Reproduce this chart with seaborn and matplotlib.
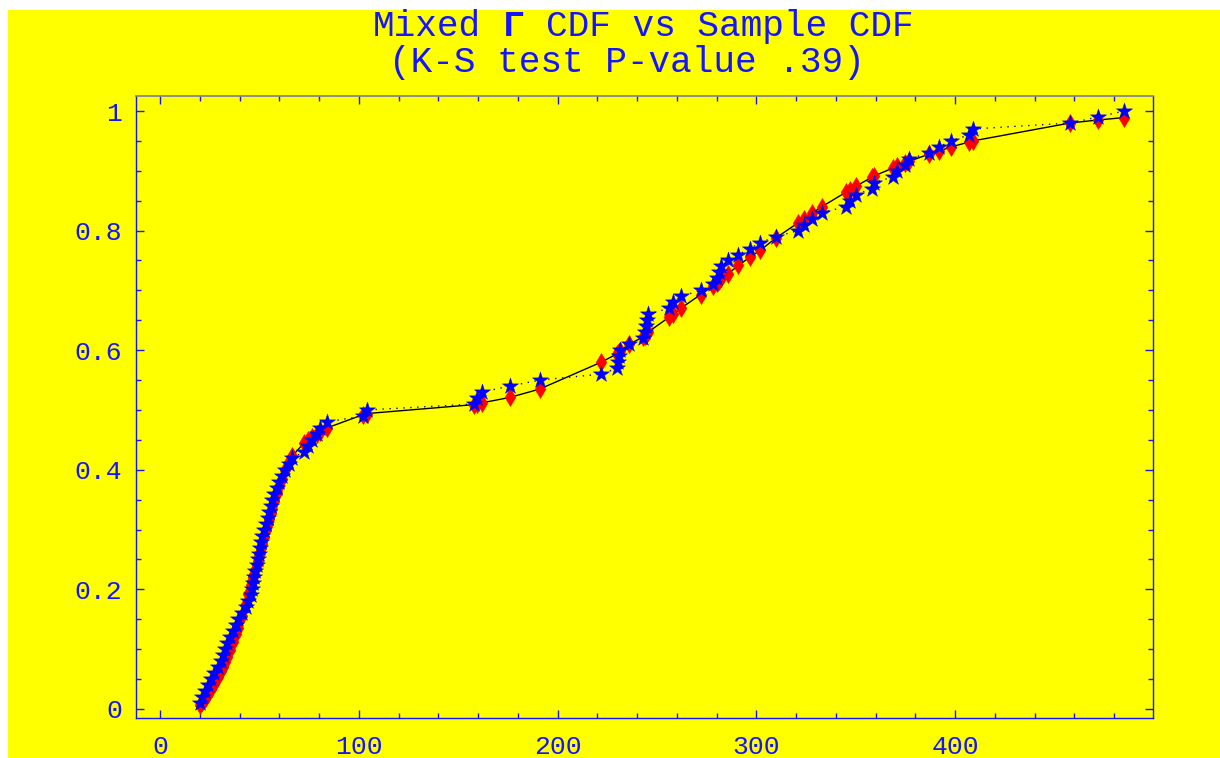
import matplotlib
matplotlib.use("Agg")
import matplotlib.pyplot as plt
from matplotlib.patches import Rectangle
from matplotlib.ticker import MultipleLocator
import seaborn as sns
import pandas as pd

# ---- data ----
x_sample = [20, 21, 22.5, 24, 25.5, 27, 29, 30.5, 31.5, 32.5,
            33.5, 35, 36.5, 38, 39, 41, 43, 44.5, 46, 46.5,
            47, 47.5, 48, 48.7, 49.3, 50, 50.5, 51, 51.5, 52.5,
            53.5, 54.3, 55, 55.7, 56.3, 57.5, 58.8, 60, 61.3, 63,
            65, 66.5, 72.5, 74.5, 76.5, 79, 80.5, 84, 102, 104,
            158, 159.5, 162, 176, 191, 222, 230, 230.5, 231, 231.5,
            236, 243, 244, 244.5, 245, 245.5, 256, 258, 262, 272,
            278, 280, 281, 282, 286, 291, 297, 302, 310, 321,
            324, 328, 333, 345, 347, 350, 358, 359, 369, 371,
            375, 377, 387, 392, 398, 407, 409, 458, 472, 485]

sample_cdf = [0.01, 0.02, 0.03, 0.04, 0.05, 0.06, 0.07, 0.08, 0.09, 0.10,
              0.11, 0.12, 0.13, 0.14, 0.15, 0.16, 0.17, 0.18, 0.19, 0.20,
              0.21, 0.22, 0.23, 0.24, 0.25, 0.26, 0.27, 0.28, 0.29, 0.30,
              0.31, 0.32, 0.33, 0.34, 0.35, 0.36, 0.37, 0.38, 0.39, 0.40,
              0.41, 0.42, 0.43, 0.44, 0.45, 0.46, 0.47, 0.48, 0.49, 0.50,
              0.51, 0.52, 0.53, 0.54, 0.55, 0.56, 0.57, 0.58, 0.59, 0.60,
              0.61, 0.62, 0.63, 0.64, 0.65, 0.66, 0.67, 0.68, 0.69, 0.70,
              0.71, 0.72, 0.73, 0.74, 0.75, 0.76, 0.77, 0.78, 0.79, 0.80,
              0.81, 0.82, 0.83, 0.84, 0.85, 0.86, 0.87, 0.88, 0.89, 0.90,
              0.91, 0.92, 0.93, 0.94, 0.95, 0.96, 0.97, 0.98, 0.99, 1.00]

fitted_cdf = [0.007, 0.011, 0.017, 0.025, 0.033, 0.042, 0.054, 0.064, 0.071, 0.079,
              0.087, 0.099, 0.112, 0.125, 0.135, 0.155, 0.176, 0.192, 0.208, 0.214,
              0.220, 0.226, 0.232, 0.241, 0.248, 0.257, 0.263, 0.270, 0.276, 0.288,
              0.300, 0.310, 0.318, 0.327, 0.334, 0.347, 0.361, 0.373, 0.385, 0.399,
              0.413, 0.423, 0.445, 0.450, 0.455, 0.460, 0.464, 0.470, 0.492, 0.494,
              0.509, 0.510, 0.512, 0.521, 0.535, 0.580, 0.594, 0.596, 0.597, 0.599,
              0.610, 0.622, 0.624, 0.626, 0.628, 0.630, 0.655, 0.660, 0.670, 0.693,
              0.707, 0.712, 0.715, 0.720, 0.728, 0.742, 0.756, 0.767, 0.788, 0.813,
              0.820, 0.829, 0.840, 0.864, 0.868, 0.874, 0.889, 0.891, 0.905, 0.908,
              0.913, 0.916, 0.928, 0.933, 0.940, 0.948, 0.950, 0.980, 0.985, 0.989]

x_ticks = [0, 100, 200, 300, 400]
x_tick_labels = ["0", "100", "200", "300", "400"]
y_ticks = [0, 0.2, 0.4, 0.6, 0.8, 1.0]
y_tick_labels = ["0", "0.2", "0.4", "0.6", "0.8", "1"]
title_part_a = "Mixed"
title_gamma = "Γ"
title_part_b = "CDF vs Sample CDF"
title_line2 = "(K-S test P-value .39)"

df = pd.DataFrame({"x": x_sample, "sample": sample_cdf, "fitted": fitted_cdf})

# ---- style ----
sns.set_theme(style="ticks")
plt.rcParams["font.family"] = ["Liberation Mono", "DejaVu Sans Mono"]

BLUE = "#1414ff"
YELLOW = "#ffff00"

W, H = 1220, 758
fig = plt.figure(figsize=(W / 100, H / 100), dpi=100)
fig.patch.set_facecolor("white")
fig.patches.append(Rectangle((8 / W, 0), 1 - 8 / W, (H - 10) / H,
                             transform=fig.transFigure, facecolor=YELLOW,
                             edgecolor="none", zorder=-10))

left, right, top, bottom = 136, 1153, 96, 718
ax = fig.add_axes([left / W, (H - bottom) / H, (right - left) / W, (bottom - top) / H])
ax.set_facecolor(YELLOW)

# lines
sns.lineplot(data=df, x="x", y="fitted", ax=ax, color="black", lw=1.0,
             sort=False, estimator=None, zorder=2)
sns.lineplot(data=df, x="x", y="sample", ax=ax, color="#0000cc", lw=1.0,
             linestyle=(0, (1, 4)), sort=False, estimator=None, zorder=2)
# markers
sns.scatterplot(data=df, x="x", y="fitted", ax=ax, marker="d", s=85,
                color="#ff0000", edgecolor="#ff0000", linewidth=0.3, zorder=3)
sns.scatterplot(data=df, x="x", y="sample", ax=ax, marker="*", s=150,
                color="#0000ff", edgecolor="#0000ff", linewidth=0.3, zorder=4)

ax.set_xlim(-12.1, 499.6)
ax.set_ylim(-0.0151, 1.0251)
ax.set_xticks(x_ticks)
ax.set_xticklabels(x_tick_labels)
ax.set_yticks(y_ticks)
ax.set_yticklabels(y_tick_labels)
ax.xaxis.set_minor_locator(MultipleLocator(20))
ax.yaxis.set_minor_locator(MultipleLocator(0.05))
ax.set_xlabel("")
ax.set_ylabel("")

ax.tick_params(which="both", direction="in", top=True, right=True,
               colors=BLUE, labelcolor=BLUE, labelsize=19, width=1.0)
ax.tick_params(which="major", length=6)
ax.tick_params(which="minor", length=3.5)
ax.tick_params(axis="y", pad=10)
ax.tick_params(axis="x", pad=12)
for side in ["left", "right", "bottom"]:
    ax.spines[side].set_color(BLUE)
    ax.spines[side].set_linewidth(1.0)
ax.spines["top"].set_color("#7a7aa8")
ax.spines["top"].set_linewidth(1.2)

# title (monospace pieces; bold Γ between them)
fs = 26
char_w = fs * 100 / 72 * 0.6
n_chars = len(title_part_a) + 1 + len(title_gamma) + 1 + len(title_part_b)
cx1 = 644
x0 = cx1 - n_chars * char_w / 2
ty1 = 1 - 26 / H
fig.text(x0 / W, ty1, title_part_a, ha="left", va="center",
         fontsize=fs, color=BLUE)
gi = len(title_part_a) + 1
fig.text((x0 + (gi + 0.5) * char_w) / W, ty1, title_gamma, ha="center",
         va="center", fontsize=fs, color=BLUE, fontweight="bold")
fig.text((x0 + (gi + 2) * char_w) / W, ty1, title_part_b, ha="left",
         va="center", fontsize=fs, color=BLUE)
fig.text(627 / W, 1 - 63 / H, title_line2, ha="center", va="center",
         fontsize=fs, color=BLUE)

fig.savefig("out.png", dpi=100, facecolor=fig.get_facecolor())
